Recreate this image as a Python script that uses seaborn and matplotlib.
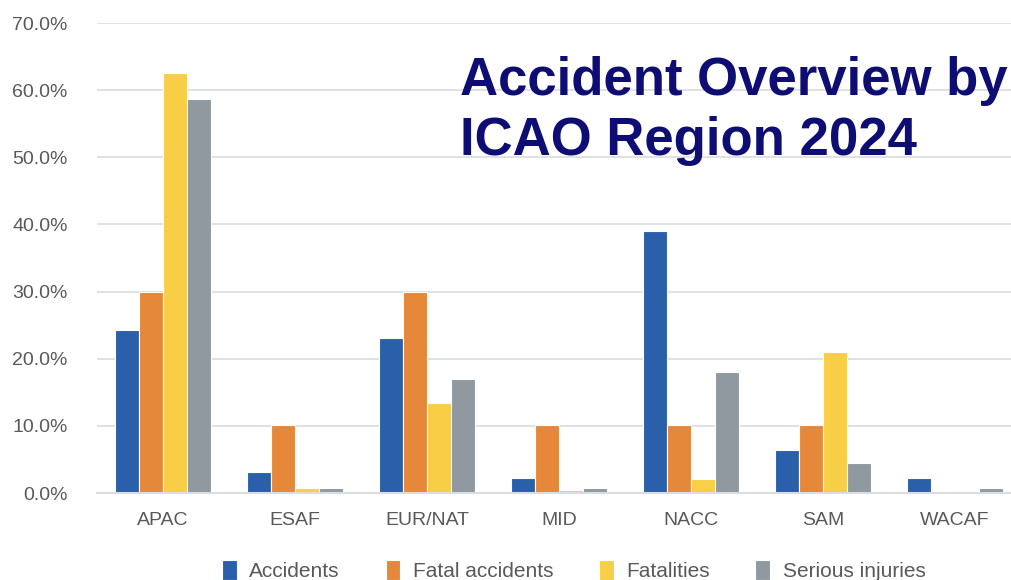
import matplotlib
matplotlib.use('Agg')
import matplotlib.pyplot as plt
import seaborn as sns
import pandas as pd
from matplotlib.ticker import FuncFormatter

regions = ['APAC', 'ESAF', 'EUR/NAT', 'MID', 'NACC', 'SAM', 'WACAF']
accidents = [24.3, 3.1, 23.1, 2.2, 39.0, 6.4, 2.2]
fatal_accidents = [30.0, 10.1, 30.0, 10.1, 10.1, 10.1, 0.0]
fatalities = [62.6, 0.7, 13.4, 0.5, 2.1, 21.0, 0.0]
serious_injuries = [58.7, 0.7, 17.0, 0.7, 18.0, 4.5, 0.7]

series = {
    'Accidents': accidents,
    'Fatal accidents': fatal_accidents,
    'Fatalities': fatalities,
    'Serious injuries': serious_injuries,
}
colors = ['#2a5faa', '#e6883a', '#f7ce46', '#8f999f']

df = pd.DataFrame([
    {'Region': r, 'Metric': name, 'Value': v}
    for name, vals in series.items()
    for r, v in zip(regions, vals)
])

sns.set_style("white")
plt.rcParams['font.family'] = ['Liberation Sans', 'DejaVu Sans']

fig = plt.figure(figsize=(10.11, 5.8), dpi=100)
ax = fig.add_axes([97 / 1011, 87 / 580, 924 / 1011, 470 / 580])

sns.barplot(data=df, x='Region', y='Value', hue='Metric', palette=colors,
            saturation=1, width=0.72, edgecolor='white', linewidth=0.8, ax=ax)

ax.set_ylim(0, 70)
ax.set_xlim(-0.5, 6.5)
ax.set_yticks(range(0, 71, 10))
ax.yaxis.set_major_formatter(FuncFormatter(lambda v, p: f'{v:.1f}%'))
ax.grid(axis='y', color='#d9dde0', linewidth=1.2)
ax.set_axisbelow(True)
for s in ['top', 'right', 'left']:
    ax.spines[s].set_visible(False)
ax.spines['bottom'].set_color('#d9dde0')
ax.spines['bottom'].set_linewidth(1.5)
ax.tick_params(axis='both', length=0, labelsize=14, colors='#595959')
ax.tick_params(axis='x', pad=14)
ax.tick_params(axis='y', pad=21)
ax.set_xlabel('')
ax.set_ylabel('')

handles, labels = ax.get_legend_handles_labels()
ax.legend(handles, labels, loc='center', bbox_to_anchor=(0.516, -0.164),
          ncol=4, frameon=False, fontsize=15, handlelength=0.7, handleheight=1.1,
          columnspacing=2.2, handletextpad=0.6, labelcolor='#595959')

title_kw = dict(fontsize=38, fontweight='bold', color='#0d0d73',
                ha='left', va='baseline')
fig.text(460 / 1011, 1 - 95 / 580, 'Accident Overview by', **title_kw)
fig.text(460 / 1011, 1 - 155 / 580, 'ICAO Region 2024', **title_kw)

plt.savefig('out.png', dpi=100)
